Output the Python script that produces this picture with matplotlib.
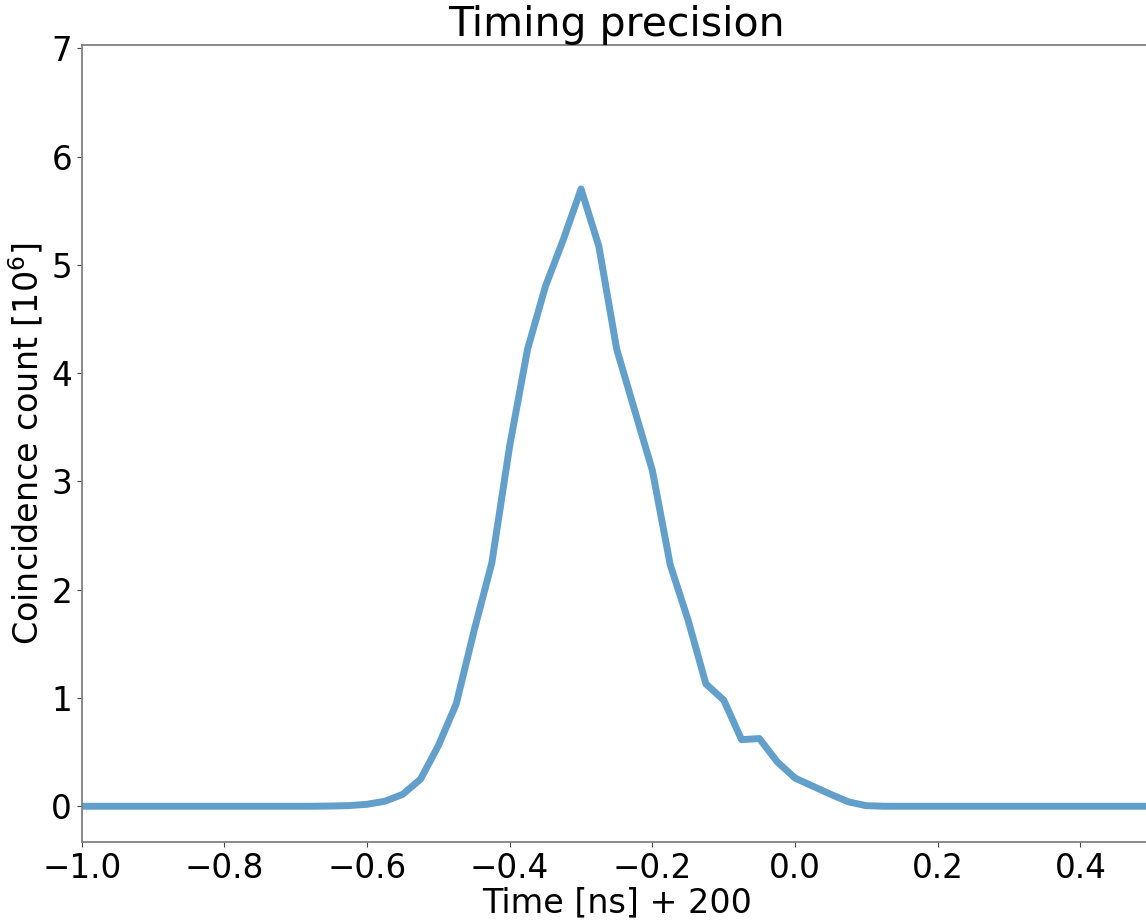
import matplotlib
matplotlib.use("Agg")
import matplotlib.pyplot as plt
import numpy as np

# time bins (ns, offset by 200) and coincidence counts in units of 1e6
t_start = -1.0
t_step = 0.025
counts = [
    # -1.000 .. -0.675
    0.0, 0.0, 0.0, 0.0, 0.0, 0.0, 0.0, 0.0, 0.0, 0.0, 0.0, 0.0, 0.0, 0.0,
    # -0.650 .. -0.300
    0.002, 0.006, 0.018, 0.046, 0.11, 0.25, 0.56, 0.945, 1.62, 2.25, 3.33,
    4.22, 4.80, 5.23, 5.70,
    # -0.275 .. 0.000
    5.17, 4.22, 3.66, 3.10, 2.23, 1.72, 1.13, 0.98, 0.615, 0.625, 0.41, 0.26,
    # 0.025 .. 0.500
    0.185, 0.11, 0.04, 0.005, 0.0, 0.0, 0.0, 0.0, 0.0, 0.0, 0.0, 0.0, 0.0,
    0.0, 0.0, 0.0, 0.0, 0.0, 0.0, 0.0,
]
time = t_start + t_step * np.arange(len(counts))

fig = plt.figure(figsize=(11.46, 9.22), dpi=100)
ax = fig.add_axes([0.0713, 0.0868, 0.9337, 0.8644])

# draw graph
ax.plot(time, counts, color="#1f77b4", alpha=0.7, linewidth=5)
ax.set_xlim(-1.0, 0.5)
ax.set_ylim(-0.33, 7.03)
ax.set_xticks(np.arange(-1.0, 0.41, 0.2))
ax.set_yticks(np.arange(0, 8, 1))

# labels
ax.set_title("Timing precision", fontsize=29.5, pad=3)
ax.set_xlabel("Time [ns] + 200", fontsize=24, labelpad=1)
ax.set_ylabel(r"Coincidence count [$10^6$]", fontsize=24, labelpad=4)
ax.tick_params(labelsize=23.5, length=3.5, color="#444444")
for s in ax.spines.values():
    s.set_color("#808080")
    s.set_linewidth(1.3)

fig.savefig("out.png", dpi=100)
